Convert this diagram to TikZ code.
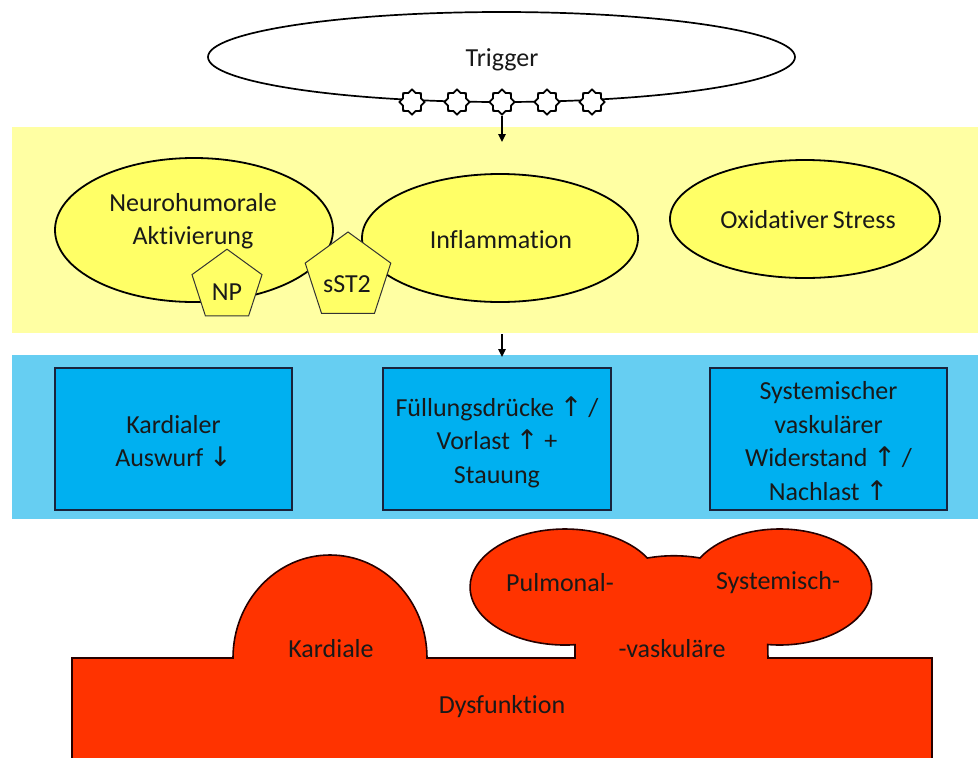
\documentclass[tikz,border=0pt]{standalone}
\usepackage{fontspec}
\setmainfont{Carlito}[Ligatures=NoCommon]
\newfontfamily\arrowfont{DejaVu Sans}
\usetikzlibrary{shapes.geometric,arrows.meta}
\definecolor{bandY}{RGB}{255,255,163}
\definecolor{ellY}{RGB}{255,255,102}
\definecolor{bandB}{RGB}{102,206,242}
\definecolor{boxB}{RGB}{0,176,240}
\definecolor{navy}{RGB}{25,35,60}
\definecolor{redF}{RGB}{255,51,0}
\definecolor{txt}{RGB}{25,25,25}
\newcommand{\uarr}{{\arrowfont\fontsize{27}{27}\selectfont ↑}}
\newcommand{\darr}{{\arrowfont\fontsize{27}{27}\selectfont ↓}}
\tikzset{
  lbl/.style={font=\fontsize{26}{33.5}\selectfont, text=txt, align=center, inner sep=0pt},
  yell/.style={ellipse, draw=black, line width=1.8pt, fill=ellY, inner sep=0pt},
  penta/.style={regular polygon, regular polygon sides=5, draw=black!80, line width=1pt, fill=ellY, inner sep=0pt},
  starnode/.style={star, star points=8, star point ratio=1.28, minimum size=25pt, inner sep=0pt, draw=black, line width=1.8pt, fill=white},
  bbox/.style={rectangle, draw=navy, line width=1.6pt, fill=boxB, inner sep=0pt},
  flow/.style={line width=1.6pt, -{Triangle[length=8pt,width=7.5pt]}},
  redshape/.style={draw=black!85!red, line width=1.6pt, fill=redF}
}
\begin{document}
\begin{tikzpicture}[x=1pt,y=-1pt]
\useasboundingbox (0,0) rectangle (978,758);
% bands
\fill[bandY] (12,127) rectangle (978,333);
\fill[bandB] (12,355) rectangle (978,519);
% trigger
\node[ellipse, draw=black, line width=1.7pt, fill=white, minimum width=587pt, minimum height=90pt, inner sep=0pt] (trig) at (501.5,57) {};
\node[lbl] (trigt) at (502,60) {Trigger};
\node[starnode] (s1) at (412,102) {};
\node[starnode] (s2) at (457,102) {};
\node[starnode] (s3) at (502,102) {};
\node[starnode] (s4) at (547,102) {};
\node[starnode] (s5) at (592,102) {};
\coordinate (a1) at (502,142);
\draw[flow] (s3.south) -- (a1);
% yellow ellipses
\node[yell, minimum width=278pt, minimum height=144pt] (neuro) at (194,230) {};
\node[lbl] (neurot) at (193,221) {Neurohumorale\\Aktivierung};
\node[yell, minimum width=276pt, minimum height=128pt] (infl) at (500,238) {};
\node[lbl] (inflt) at (501,240) {Inflammation};
\node[yell, minimum width=270pt, minimum height=118pt] (oxi) at (805,219) {};
\node[lbl] (oxit) at (808,220) {Oxidativer\,Stress};
\node[penta, minimum size=73.6pt] (np) at (227,286) {};
\node[lbl] (npt) at (227,292) {NP};
\node[penta, minimum size=90pt] (sst) at (348,277) {};
\node[lbl] (sstt) at (347,284) {sST2};
% arrow between bands
\coordinate (b0) at (502,334);
\coordinate (b1) at (502,357);
\draw[flow] (b0) -- (b1);
% blue boxes
\node[bbox, minimum width=237pt, minimum height=142pt] (k1) at (173.5,439) {};
\node[lbl] (k1t) at (173.5,441) {Kardialer\\Auswurf \darr};
\node[bbox, minimum width=228pt, minimum height=142pt] (k2) at (497,439) {};
\node[lbl] (k2t) at (497,442) {Füllungsdrücke \uarr\ /\\Vorlast \uarr\ +\\Stauung};
\node[bbox, minimum width=237pt, minimum height=142pt] (k3) at (828.5,439) {};
\node[lbl] (k3t) at (828.5,441) {Systemischer\\vaskulärer\\Widerstand \uarr\ /\\Nachlast \uarr};
% red shape
\draw[redshape] (72,790) -- (72,658) -- (233,658)
  arc[start angle=180, end angle=360, x radius=97, y radius=103]
  -- (575,658) -- (575,644.7)
  arc[start angle=84, end angle=330, x radius=95, y radius=58]
  .. controls (665,555) and (683,555) .. (700,558)
  arc[start angle=210, end angle=457.5, x radius=92, y radius=58]
  -- (768,658) -- (932,658) -- (932,790) -- cycle;
\node[lbl] (kard) at (331,649) {Kardiale};
\node[lbl] (pulm) at (560,583) {Pulmonal-};
\node[lbl] (syst) at (778,583) {Systemisch-};
\node[lbl] (vask) at (672,649) {-vaskuläre};
\node[lbl] (dysf) at (502,707) {Dysfunktion};
\end{tikzpicture}
\end{document}
